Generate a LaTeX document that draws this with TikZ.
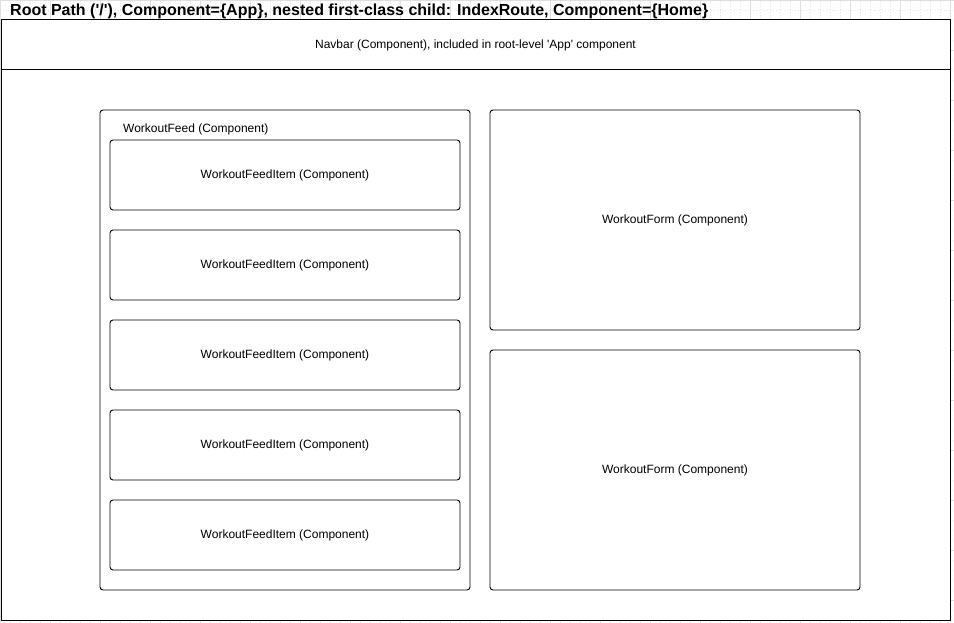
\documentclass[tikz,border=0pt]{standalone}
\usepackage{fontspec}
\setmainfont{Liberation Sans}
\usetikzlibrary{positioning}

\begin{document}
\begin{tikzpicture}[x=1pt, y=-1pt,
    box/.style={draw, line width=1pt, fill=white, inner sep=0pt, font=\fontsize{12}{14}\selectfont},
    comp/.style={box, rounded corners=3pt, line width=0.9pt}]
  \useasboundingbox (0,0) rectangle (954,623);
  % background grid
  \draw[gray!20, dotted, line width=0.8pt, step=10pt] (0,0) grid (954,623);
  \draw[gray!25, line width=0.8pt, step=50pt] (0,0) grid (954,623);

  \node[anchor=base west, inner sep=0pt, font=\fontsize{16}{18}\bfseries] (title) at (10,16)
    {Root Path (\textquotesingle/\textquotesingle), Component=\{App\}, nested first-class child: IndexRoute, Component=\{Home\}};

  \node[box, minimum width=949pt, minimum height=600pt] (app) at (475.5,320.5) {};
  \node[box, minimum width=949pt, minimum height=50pt] (navbar) at (475.5,45)
    {Navbar (Component), included in root-level \textquotesingle App\textquotesingle\ component};

  % feed column
  \node[comp, minimum width=370pt, minimum height=480pt] (feed) at (285,350) {};
  \node[anchor=base west, inner sep=0pt, font=\fontsize{12}{14}\selectfont] (feedlabel) at (123,133) {WorkoutFeed (Component)};
  \node[comp, minimum width=350pt, minimum height=70pt] (item1) at (285,175) {WorkoutFeedItem (Component)};
  \node[comp, minimum width=350pt, minimum height=70pt] (item2) at (285,265) {WorkoutFeedItem (Component)};
  \node[comp, minimum width=350pt, minimum height=70pt] (item3) at (285,355) {WorkoutFeedItem (Component)};
  \node[comp, minimum width=350pt, minimum height=70pt] (item4) at (285,445) {WorkoutFeedItem (Component)};
  \node[comp, minimum width=350pt, minimum height=70pt] (item5) at (285,535) {WorkoutFeedItem (Component)};

  % forms
  \node[comp, minimum width=370pt, minimum height=220pt] (form1) at (675,220) {WorkoutForm (Component)};
  \node[comp, minimum width=370pt, minimum height=240pt] (form2) at (675,470) {WorkoutForm (Component)};
\end{tikzpicture}
\end{document}
